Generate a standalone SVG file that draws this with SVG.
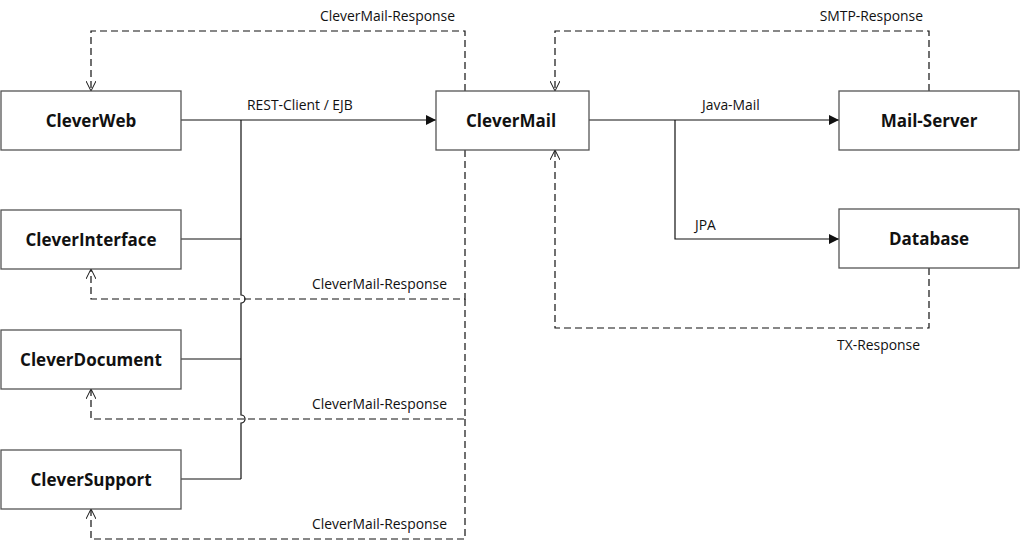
<svg xmlns="http://www.w3.org/2000/svg" width="1021" height="543" viewBox="0 0 1021 543">
<style>
.node rect{fill:#fff;stroke:#555;stroke-width:1.3}
.node text{font-family:"Open Sans","Liberation Sans",sans-serif;font-weight:bold;font-size:17px;fill:#111;text-anchor:middle}
.solid{fill:none;stroke:#111;stroke-width:1.2}
.dash{fill:none;stroke:#111;stroke-width:1.2;stroke-dasharray:7,4}
.lbl{font-family:"Open Sans","Liberation Sans",sans-serif;font-size:13.9px;fill:#111}
</style>
<defs>
<marker id="fa" viewBox="0 0 10 10" refX="10" refY="5" markerWidth="12" markerHeight="10" markerUnits="userSpaceOnUse" orient="auto">
<path d="M0,0 L10,5 L0,10 Z" fill="#111"/>
</marker>
<marker id="oa" viewBox="0 0 10 10" refX="10" refY="5" markerWidth="10" markerHeight="10" markerUnits="userSpaceOnUse" orient="auto">
<path d="M0,0 L10,5 L0,10" fill="none" stroke="#111" stroke-width="1"/>
</marker>
</defs>
<rect width="1021" height="543" fill="#fff"/>
<g id="connectors">
<path class="solid" d="M181,120 H436" marker-end="url(#fa)"/>
<path class="solid" d="M241,120 V295 A4,4 0 0 1 241,303 V415 A4,4 0 0 1 241,423 V479"/>
<path class="solid" d="M181,239 H241"/>
<path class="solid" d="M181,359 H241"/>
<path class="solid" d="M181,479 H241"/>
<path class="solid" d="M589,120 H839" marker-end="url(#fa)"/>
<path class="solid" d="M675,120 V239 H839" marker-end="url(#fa)"/>
<path class="dash" d="M465,91 V31 H91 V91" marker-end="url(#oa)"/>
<path class="dash" d="M465,150 V299 H91 V269" marker-end="url(#oa)"/>
<path class="dash" d="M465,299 V419 H91 V389" marker-end="url(#oa)"/>
<path class="dash" d="M465,419 V539 H91 V509" marker-end="url(#oa)"/>
<path class="dash" d="M929,91 V31 H555 V91" marker-end="url(#oa)"/>
<path class="dash" d="M929,268 V328 H555 V150" marker-end="url(#oa)"/>
<text class="lbl" x="247" y="110">REST-Client / EJB</text>
<text class="lbl" x="702" y="110">Java-Mail</text>
<text class="lbl" x="695" y="230">JPA</text>
<text class="lbl" x="455" y="21" text-anchor="end">CleverMail-Response</text>
<text class="lbl" x="447" y="289" text-anchor="end">CleverMail-Response</text>
<text class="lbl" x="447" y="409" text-anchor="end">CleverMail-Response</text>
<text class="lbl" x="447" y="529" text-anchor="end">CleverMail-Response</text>
<text class="lbl" x="923" y="21" text-anchor="end">SMTP-Response</text>
<text class="lbl" x="920" y="350" text-anchor="end">TX-Response</text>
</g>
<g id="cleverweb" class="node"><rect x="1" y="91" width="180" height="59"/><text x="91" y="127">CleverWeb</text></g>
<g id="cleverinterface" class="node"><rect x="1" y="210" width="180" height="59"/><text x="91" y="246">CleverInterface</text></g>
<g id="cleverdocument" class="node"><rect x="1" y="330" width="180" height="59"/><text x="91" y="366">CleverDocument</text></g>
<g id="cleversupport" class="node"><rect x="1" y="450" width="180" height="59"/><text x="91" y="486">CleverSupport</text></g>
<g id="clevermail" class="node"><rect x="436" y="91" width="153" height="59"/><text x="511" y="127">CleverMail</text></g>
<g id="mailserver" class="node"><rect x="839" y="91" width="180" height="59"/><text x="929" y="127">Mail-Server</text></g>
<g id="database" class="node"><rect x="839" y="209" width="180" height="59"/><text x="929" y="245">Database</text></g>
</svg>
